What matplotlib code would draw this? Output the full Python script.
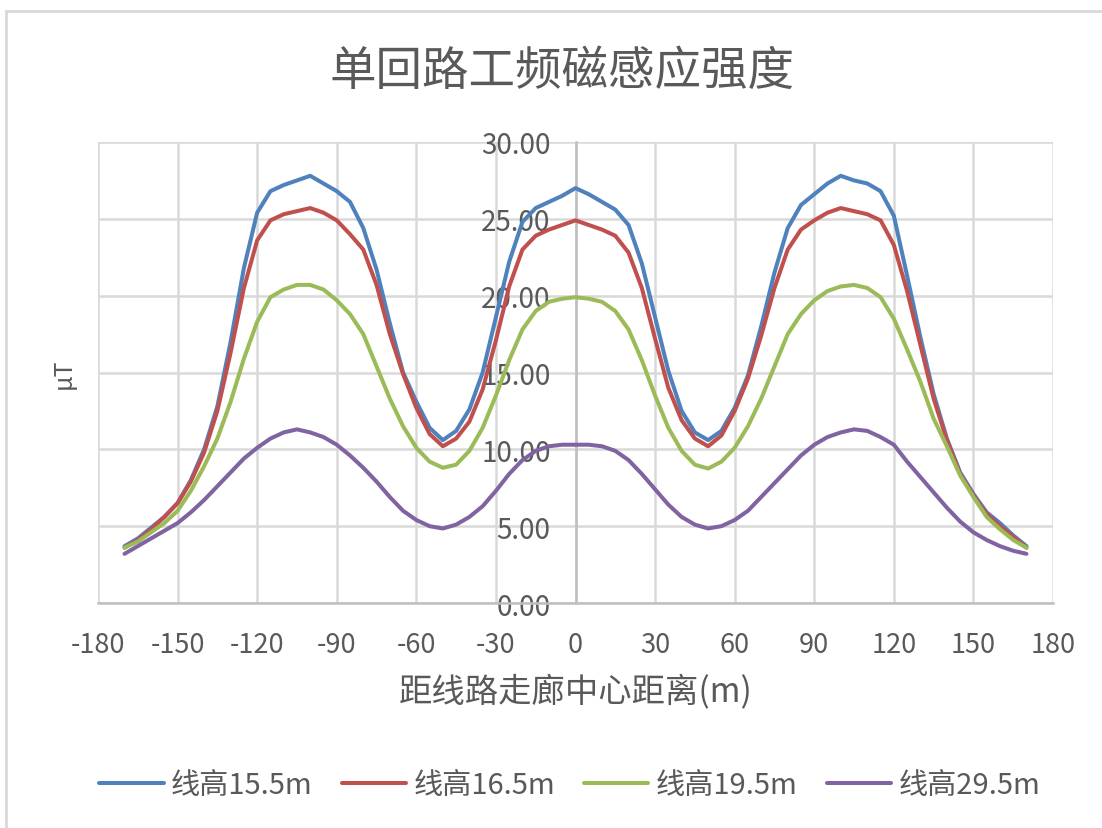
import matplotlib
matplotlib.use("Agg")
import matplotlib.pyplot as plt
from matplotlib.lines import Line2D

plt.rcParams["font.family"] = ["Noto Sans CJK SC", "DejaVu Sans"]
plt.rcParams["axes.unicode_minus"] = False

# Distance from corridor centre (m)
distance = [
    -170, -165, -160, -155, -150, -145, -140, -135, -130, -125, -120, -115,
    -110, -105, -100, -95, -90, -85, -80, -75, -70, -65, -60, -55,
    -50, -45, -40, -35, -30, -25, -20, -15, -10, -5, 0, 5,
    10, 15, 20, 25, 30, 35, 40, 45, 50, 55, 60, 65,
    70, 75, 80, 85, 90, 95, 100, 105, 110, 115, 120, 125,
    130, 135, 140, 145, 150, 155, 160, 165, 170,
]

# Power-frequency magnetic induction (uT) for each conductor height
b_155 = [
    3.7, 4.2, 4.9, 5.6, 6.5, 8.0, 10.0, 12.8, 17.0, 21.8, 25.4, 26.8,
    27.2, 27.5, 27.8, 27.3, 26.8, 26.1, 24.4, 21.7, 18.2, 15.0, 13.1, 11.4,
    10.6, 11.2, 12.6, 15.0, 18.6, 22.2, 24.8, 25.7, 26.1, 26.5, 27.0, 26.6,
    26.1, 25.6, 24.6, 22.1, 18.6, 15.1, 12.5, 11.1, 10.6, 11.2, 12.7, 14.8,
    18.0, 21.5, 24.4, 25.9, 26.6, 27.3, 27.8, 27.5, 27.3, 26.8, 25.2, 21.3,
    17.3, 13.6, 10.7, 8.5, 7.1, 5.9, 5.2, 4.4, 3.7,
]
b_165 = [
    3.6, 4.1, 4.8, 5.6, 6.5, 7.9, 9.8, 12.5, 16.3, 20.5, 23.6, 24.9,
    25.3, 25.5, 25.7, 25.4, 24.9, 24.0, 23.0, 20.7, 17.5, 14.9, 12.7, 11.0,
    10.2, 10.7, 11.8, 13.9, 17.1, 20.6, 23.0, 23.9, 24.3, 24.6, 24.9, 24.6,
    24.3, 23.9, 22.8, 20.5, 17.2, 14.0, 11.9, 10.7, 10.2, 10.9, 12.5, 14.6,
    17.4, 20.5, 23.0, 24.3, 24.9, 25.4, 25.7, 25.5, 25.3, 24.9, 23.3, 20.3,
    16.8, 13.3, 10.6, 8.4, 7.0, 5.8, 5.0, 4.3, 3.6,
]
b_195 = [
    3.6, 4.0, 4.6, 5.2, 6.0, 7.3, 8.9, 10.7, 13.1, 15.9, 18.3, 19.9,
    20.4, 20.7, 20.7, 20.4, 19.7, 18.8, 17.5, 15.4, 13.3, 11.5, 10.1, 9.2,
    8.8, 9.0, 9.9, 11.4, 13.5, 15.8, 17.8, 19.0, 19.6, 19.8, 19.9, 19.8,
    19.6, 19.0, 17.8, 15.8, 13.5, 11.4, 9.9, 9.0, 8.75, 9.2, 10.1, 11.5,
    13.3, 15.4, 17.5, 18.8, 19.7, 20.3, 20.6, 20.7, 20.5, 19.9, 18.5, 16.5,
    14.4, 12.0, 10.2, 8.3, 6.9, 5.6, 4.8, 4.1, 3.6,
]
b_295 = [
    3.2, 3.7, 4.2, 4.7, 5.2, 5.9, 6.7, 7.6, 8.5, 9.4, 10.1, 10.7,
    11.1, 11.3, 11.1, 10.8, 10.3, 9.6, 8.8, 7.9, 6.9, 6.0, 5.4, 5.0,
    4.85, 5.1, 5.6, 6.3, 7.3, 8.4, 9.3, 9.9, 10.2, 10.3, 10.3, 10.3,
    10.2, 9.9, 9.3, 8.4, 7.4, 6.4, 5.6, 5.1, 4.85, 5.0, 5.4, 6.0,
    6.9, 7.8, 8.7, 9.6, 10.3, 10.8, 11.1, 11.3, 11.2, 10.8, 10.3, 9.2,
    8.2, 7.2, 6.2, 5.3, 4.6, 4.1, 3.7, 3.4, 3.2,
]

series = [
    ("线高15.5m", b_155, "#4F81BD"),
    ("线高16.5m", b_165, "#C0504D"),
    ("线高19.5m", b_195, "#9BBB59"),
    ("线高29.5m", b_295, "#8064A2"),
]

x_ticks = list(range(-180, 181, 30))
y_ticks = [0, 5, 10, 15, 20, 25, 30]

TEXT = "#595959"
GRID = "#D9D9D9"

fig = plt.figure(figsize=(11.02, 8.29), dpi=100)
ax = fig.add_axes([98 / 1102, 1 - 604 / 829, 955 / 1102, 461 / 829])

for label, values, color in series:
    ax.plot(distance, values, color=color, lw=2.9, label=label,
            solid_capstyle="round", solid_joinstyle="round", zorder=3)

ax.set_xlim(-180, 180)
ax.set_ylim(0, 30)
ax.set_xticks(x_ticks)
ax.set_yticks(y_ticks)
ax.set_yticklabels([f"{v:.2f}" for v in y_ticks])
ax.grid(True, color=GRID, lw=1.8, zorder=0)
ax.set_axisbelow(True)

# value axis crosses at x = 0
ax.spines["left"].set_position(("data", 0))
ax.spines["left"].set_color("#BFBFBF")
ax.spines["left"].set_linewidth(1.8)
ax.spines["bottom"].set_color("#BFBFBF")
ax.spines["bottom"].set_linewidth(1.8)
ax.spines["top"].set_visible(False)
ax.spines["right"].set_visible(False)
ax.tick_params(axis="both", length=0, labelcolor=TEXT)
ax.tick_params(axis="y", pad=18, labelsize=20)
ax.tick_params(axis="x", pad=20, labelsize=19.5)

ax.set_xlabel("距线路走廊中心距离(m)", fontsize=24, color=TEXT, labelpad=12)
ax.set_ylabel("μT", fontsize=18, color=TEXT)
ax.yaxis.set_label_coords(-0.022, 0.5)

fig.text(0.51, 1 - 72 / 829, "单回路工频磁感应强度", ha="center", va="center",
         fontsize=33.5, color=TEXT)

leg = fig.legend(loc="center", bbox_to_anchor=(0.517, 1 - 786 / 829), ncol=4,
                 frameon=False, fontsize=21, handlelength=2.2,
                 handletextpad=0.25, columnspacing=1.0)
for t in leg.get_texts():
    t.set_color(TEXT)

# chart-area frame
fig.add_artist(Line2D([6 / 1102, 1], [1 - 12 / 829, 1 - 12 / 829],
                      color=GRID, lw=2, transform=fig.transFigure))
fig.add_artist(Line2D([6 / 1102, 6 / 1102], [0, 1 - 12 / 829],
                      color=GRID, lw=2, transform=fig.transFigure))

fig.savefig("out.png", dpi=100, facecolor="white")
